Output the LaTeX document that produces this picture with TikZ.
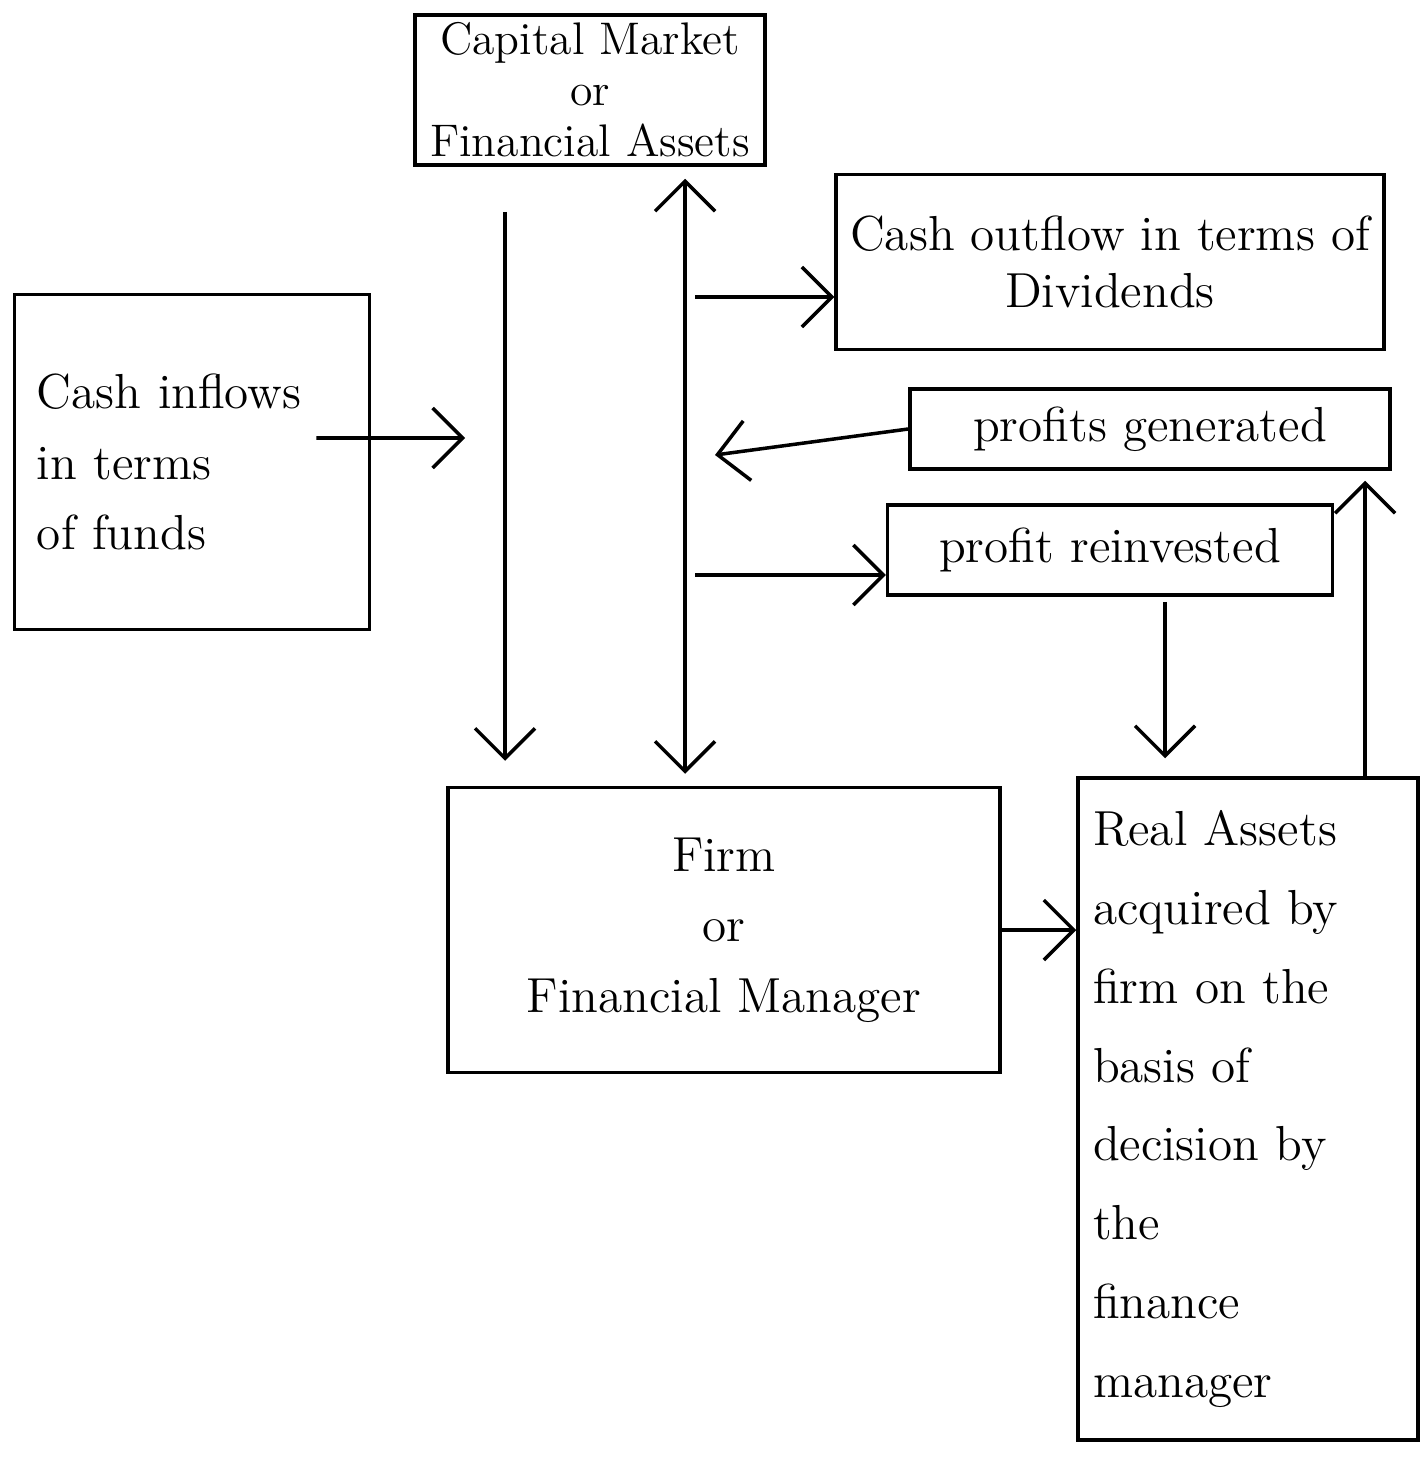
\documentclass[tikz,border=0pt]{standalone}
\usetikzlibrary{arrows.meta}
\begin{document}
\begin{tikzpicture}[
	box/.style={draw, line width=1pt, inner sep=4pt, font=\fontsize{14}{20}\selectfont},
	flow/.style={line width=1pt, -{Straight Barb[length=3mm,width=6mm]}},
	twoway/.style={line width=1pt, {Straight Barb[length=3mm,width=6mm]}-{Straight Barb[length=3mm,width=6mm]}}
]
	\useasboundingbox (0,0) rectangle (14.2,-14.58);

	% boxes
	\node[box, minimum width=3.5cm, minimum height=1.5cm, inner sep=2pt, align=center, font=\fontsize{13}{14.5}\selectfont] (capital) at (5.9,-0.9) {Capital Market\\or\\Financial Assets};
	\node[box, minimum width=3.55cm, minimum height=3.35cm, text width=3.1cm, align=left] (inflow) at (1.92,-4.62) {Cash inflows\\in terms\\of funds};
	\node[box, minimum width=5.3cm, minimum height=1.75cm, align=center, font=\fontsize{14}{16}\selectfont] (outflow) at (11.1,-2.62) {Cash outflow in terms of\\Dividends};
	\node[box, minimum width=4.8cm, minimum height=0.8cm] (generated) at (11.5,-4.29) {profits generated};
	\node[box, minimum width=4.45cm, minimum height=0.9cm] (reinvested) at (11.1,-5.5) {profit reinvested};
	\node[box, minimum width=5.52cm, minimum height=2.85cm, align=center] (firm) at (7.24,-9.3) {Firm\\or\\Financial Manager};
	\node[box, minimum width=3.4cm, minimum height=6.62cm, text width=3.1cm, align=left, font=\fontsize{14}{22.4}\selectfont] (real) at (12.48,-11.09) {Real Assets\\acquired by\\firm on the\\basis of\\decision by\\the\\finance\\manager};

	% helper points
	\coordinate (downx) at (5.05,0);
	\coordinate (mainx) at (6.85,0);
	\coordinate (recx) at (11.65,0);
	\coordinate (upx) at (13.65,0);
	\coordinate (inTip) at (4.65,-4.38);
	\coordinate (genTip) at (7.15,-4.55);
	\coordinate (divStart) at (6.95,-2.97);
	\coordinate (reStart) at (6.95,-5.75);

	% connectors
	\draw[flow, shorten <=0.45cm, shorten >=0.25cm] (capital.south -| downx) -- (firm.north -| downx);
	\draw[twoway, shorten <=0.12cm, shorten >=0.12cm] (capital.south -| mainx) -- (firm.north -| mainx);
	\draw[flow] ([shift={(-0.55,0.24)}]inflow.east) -- (inTip);
	\draw[flow] (divStart) -- (divStart -| outflow.west);
	\draw[flow] (generated.west) -- (genTip);
	\draw[flow] (reStart) -- (reStart -| reinvested.west);
	\draw[flow, shorten <=0.05cm, shorten >=0.18cm] (reinvested.south -| recx) -- (real.north -| recx);
	\draw[flow, shorten >=0.1cm] (real.north -| upx) -- (generated.south -| upx);
	\draw[flow] (firm.east) -- (real.west |- firm.east);
\end{tikzpicture}
\end{document}
